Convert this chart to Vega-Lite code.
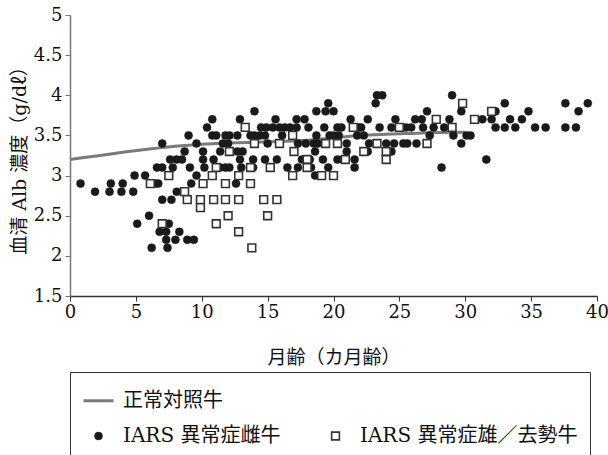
{
  "$schema": "https://vega.github.io/schema/vega-lite/v6.json",
  "width": 527,
  "height": 281,
  "autosize": {"type": "none"},
  "padding": {"left": 70, "top": 15, "right": 11, "bottom": 159},
  "background": "white",
  "config": {"view": {"stroke": null}, "font": "DejaVu Serif, Noto Sans CJK JP"},
  "datasets": {
    "norm": [
      {"m": 0, "v": 3.2}, {"m": 2, "v": 3.245}, {"m": 4, "v": 3.29}, {"m": 6, "v": 3.33},
      {"m": 8, "v": 3.365}, {"m": 10, "v": 3.39}, {"m": 12, "v": 3.405}, {"m": 14, "v": 3.415},
      {"m": 16, "v": 3.425}, {"m": 18, "v": 3.44}, {"m": 20, "v": 3.47}, {"m": 22, "v": 3.5},
      {"m": 24, "v": 3.515}, {"m": 26, "v": 3.525}, {"m": 28, "v": 3.535}, {"m": 30, "v": 3.54}
    ],
    "pts": [
      {"m": 23.3, "v": 4.0, "g": "F"}, {"m": 23.7, "v": 4.0, "g": "F"}, {"m": 29.0, "v": 4.0, "g": "F"},
      {"m": 19.6, "v": 3.9, "g": "F"}, {"m": 23.2, "v": 3.9, "g": "F"}, {"m": 33.0, "v": 3.9, "g": "F"}, {"m": 37.6, "v": 3.9, "g": "F"}, {"m": 39.3, "v": 3.9, "g": "F"},
      {"m": 14.0, "v": 3.8, "g": "F"}, {"m": 18.7, "v": 3.8, "g": "F"}, {"m": 19.4, "v": 3.8, "g": "F"}, {"m": 20.0, "v": 3.8, "g": "F"}, {"m": 27.1, "v": 3.8, "g": "F"}, {"m": 29.7, "v": 3.8, "g": "F"}, {"m": 32.3, "v": 3.8, "g": "F"}, {"m": 34.8, "v": 3.8, "g": "F"}, {"m": 38.6, "v": 3.8, "g": "F"},
      {"m": 10.8, "v": 3.7, "g": "F"}, {"m": 12.9, "v": 3.7, "g": "F"}, {"m": 15.6, "v": 3.7, "g": "F"}, {"m": 17.2, "v": 3.7, "g": "F"}, {"m": 17.8, "v": 3.7, "g": "F"}, {"m": 21.3, "v": 3.7, "g": "F"}, {"m": 22.6, "v": 3.7, "g": "F"}, {"m": 24.7, "v": 3.7, "g": "F"}, {"m": 26.2, "v": 3.7, "g": "F"}, {"m": 26.7, "v": 3.7, "g": "F"}, {"m": 28.8, "v": 3.7, "g": "F"}, {"m": 31.3, "v": 3.7, "g": "F"}, {"m": 32.0, "v": 3.7, "g": "F"}, {"m": 33.4, "v": 3.7, "g": "F"}, {"m": 34.3, "v": 3.7, "g": "F"},
      {"m": 10.4, "v": 3.6, "g": "F"}, {"m": 14.5, "v": 3.6, "g": "F"}, {"m": 14.9, "v": 3.6, "g": "F"}, {"m": 15.4, "v": 3.6, "g": "F"}, {"m": 15.9, "v": 3.6, "g": "F"}, {"m": 16.3, "v": 3.6, "g": "F"}, {"m": 16.7, "v": 3.6, "g": "F"}, {"m": 17.2, "v": 3.6, "g": "F"}, {"m": 18.1, "v": 3.6, "g": "F"}, {"m": 19.3, "v": 3.6, "g": "F"}, {"m": 20.3, "v": 3.6, "g": "F"}, {"m": 20.6, "v": 3.6, "g": "F"}, {"m": 21.9, "v": 3.6, "g": "F"}, {"m": 22.1, "v": 3.6, "g": "F"}, {"m": 23.5, "v": 3.6, "g": "F"}, {"m": 24.4, "v": 3.6, "g": "F"}, {"m": 25.5, "v": 3.6, "g": "F"}, {"m": 25.9, "v": 3.6, "g": "F"}, {"m": 26.8, "v": 3.6, "g": "F"}, {"m": 27.6, "v": 3.6, "g": "F"}, {"m": 28.4, "v": 3.6, "g": "F"}, {"m": 32.3, "v": 3.6, "g": "F"}, {"m": 33.0, "v": 3.6, "g": "F"}, {"m": 33.8, "v": 3.6, "g": "F"}, {"m": 35.3, "v": 3.6, "g": "F"}, {"m": 36.1, "v": 3.6, "g": "F"}, {"m": 37.6, "v": 3.6, "g": "F"}, {"m": 38.4, "v": 3.6, "g": "F"},
      {"m": 9.0, "v": 3.5, "g": "F"}, {"m": 10.8, "v": 3.5, "g": "F"}, {"m": 11.1, "v": 3.5, "g": "F"}, {"m": 11.8, "v": 3.5, "g": "F"}, {"m": 12.1, "v": 3.5, "g": "F"}, {"m": 12.7, "v": 3.5, "g": "F"}, {"m": 13.7, "v": 3.5, "g": "F"}, {"m": 14.0, "v": 3.5, "g": "F"}, {"m": 14.4, "v": 3.5, "g": "F"}, {"m": 14.8, "v": 3.5, "g": "F"}, {"m": 16.1, "v": 3.5, "g": "F"}, {"m": 18.7, "v": 3.5, "g": "F"}, {"m": 19.7, "v": 3.5, "g": "F"}, {"m": 20.0, "v": 3.5, "g": "F"}, {"m": 20.4, "v": 3.5, "g": "F"}, {"m": 21.8, "v": 3.5, "g": "F"}, {"m": 22.3, "v": 3.5, "g": "F"}, {"m": 27.3, "v": 3.5, "g": "F"}, {"m": 29.1, "v": 3.5, "g": "F"}, {"m": 30.1, "v": 3.5, "g": "F"}, {"m": 30.4, "v": 3.5, "g": "F"},
      {"m": 7.0, "v": 3.4, "g": "F"}, {"m": 9.6, "v": 3.4, "g": "F"}, {"m": 11.6, "v": 3.4, "g": "F"}, {"m": 12.0, "v": 3.4, "g": "F"}, {"m": 15.0, "v": 3.4, "g": "F"}, {"m": 17.3, "v": 3.4, "g": "F"}, {"m": 17.9, "v": 3.4, "g": "F"}, {"m": 18.5, "v": 3.4, "g": "F"}, {"m": 18.8, "v": 3.4, "g": "F"}, {"m": 21.0, "v": 3.4, "g": "F"}, {"m": 22.7, "v": 3.4, "g": "F"}, {"m": 24.0, "v": 3.4, "g": "F"}, {"m": 24.6, "v": 3.4, "g": "F"}, {"m": 25.3, "v": 3.4, "g": "F"}, {"m": 25.6, "v": 3.4, "g": "F"}, {"m": 26.3, "v": 3.4, "g": "F"}, {"m": 29.7, "v": 3.4, "g": "F"},
      {"m": 8.7, "v": 3.3, "g": "F"}, {"m": 10.1, "v": 3.3, "g": "F"}, {"m": 11.4, "v": 3.3, "g": "F"}, {"m": 12.7, "v": 3.3, "g": "F"}, {"m": 13.1, "v": 3.3, "g": "F"}, {"m": 18.6, "v": 3.3, "g": "F"}, {"m": 21.0, "v": 3.3, "g": "F"}, {"m": 22.6, "v": 3.3, "g": "F"}, {"m": 24.4, "v": 3.3, "g": "F"},
      {"m": 7.6, "v": 3.2, "g": "F"}, {"m": 8.1, "v": 3.2, "g": "F"}, {"m": 8.5, "v": 3.2, "g": "F"}, {"m": 10.1, "v": 3.2, "g": "F"}, {"m": 10.9, "v": 3.2, "g": "F"}, {"m": 12.9, "v": 3.2, "g": "F"}, {"m": 13.9, "v": 3.2, "g": "F"}, {"m": 14.8, "v": 3.2, "g": "F"}, {"m": 15.7, "v": 3.2, "g": "F"}, {"m": 17.6, "v": 3.2, "g": "F"}, {"m": 18.2, "v": 3.2, "g": "F"}, {"m": 19.2, "v": 3.2, "g": "F"}, {"m": 20.3, "v": 3.2, "g": "F"}, {"m": 20.7, "v": 3.2, "g": "F"}, {"m": 21.6, "v": 3.2, "g": "F"}, {"m": 31.6, "v": 3.2, "g": "F"},
      {"m": 6.6, "v": 3.1, "g": "F"}, {"m": 7.0, "v": 3.1, "g": "F"}, {"m": 7.8, "v": 3.1, "g": "F"}, {"m": 9.1, "v": 3.1, "g": "F"}, {"m": 10.2, "v": 3.1, "g": "F"}, {"m": 11.4, "v": 3.1, "g": "F"}, {"m": 11.8, "v": 3.1, "g": "F"}, {"m": 12.1, "v": 3.1, "g": "F"}, {"m": 13.0, "v": 3.1, "g": "F"}, {"m": 13.9, "v": 3.1, "g": "F"}, {"m": 16.5, "v": 3.1, "g": "F"}, {"m": 17.3, "v": 3.1, "g": "F"}, {"m": 18.3, "v": 3.1, "g": "F"}, {"m": 19.6, "v": 3.1, "g": "F"}, {"m": 21.6, "v": 3.1, "g": "F"}, {"m": 28.2, "v": 3.1, "g": "F"},
      {"m": 4.9, "v": 3.0, "g": "F"}, {"m": 5.7, "v": 3.0, "g": "F"}, {"m": 9.6, "v": 3.0, "g": "F"}, {"m": 18.6, "v": 3.0, "g": "F"},
      {"m": 0.8, "v": 2.9, "g": "F"}, {"m": 3.1, "v": 2.9, "g": "F"}, {"m": 4.0, "v": 2.9, "g": "F"}, {"m": 6.5, "v": 2.9, "g": "F"}, {"m": 6.7, "v": 2.9, "g": "F"}, {"m": 9.2, "v": 2.9, "g": "F"}, {"m": 12.6, "v": 2.9, "g": "F"},
      {"m": 1.9, "v": 2.8, "g": "F"}, {"m": 3.0, "v": 2.8, "g": "F"}, {"m": 3.9, "v": 2.8, "g": "F"}, {"m": 4.8, "v": 2.8, "g": "F"}, {"m": 8.1, "v": 2.8, "g": "F"},
      {"m": 7.0, "v": 2.7, "g": "F"}, {"m": 7.7, "v": 2.7, "g": "F"},
      {"m": 6.0, "v": 2.5, "g": "F"},
      {"m": 5.1, "v": 2.4, "g": "F"}, {"m": 7.5, "v": 2.4, "g": "F"},
      {"m": 6.8, "v": 2.3, "g": "F"}, {"m": 7.3, "v": 2.3, "g": "F"}, {"m": 8.3, "v": 2.3, "g": "F"},
      {"m": 7.3, "v": 2.2, "g": "F"}, {"m": 8.0, "v": 2.2, "g": "F"}, {"m": 8.9, "v": 2.2, "g": "F"}, {"m": 9.4, "v": 2.2, "g": "F"},
      {"m": 6.2, "v": 2.1, "g": "F"}, {"m": 7.4, "v": 2.1, "g": "F"},
      {"m": 29.8, "v": 3.9, "g": "M"},
      {"m": 32.0, "v": 3.8, "g": "M"},
      {"m": 27.8, "v": 3.7, "g": "M"}, {"m": 30.7, "v": 3.7, "g": "M"},
      {"m": 13.3, "v": 3.6, "g": "M"}, {"m": 21.5, "v": 3.6, "g": "M"}, {"m": 25.0, "v": 3.6, "g": "M"}, {"m": 29.0, "v": 3.6, "g": "M"},
      {"m": 16.9, "v": 3.5, "g": "M"},
      {"m": 14.0, "v": 3.4, "g": "M"}, {"m": 15.9, "v": 3.4, "g": "M"}, {"m": 19.4, "v": 3.4, "g": "M"}, {"m": 20.3, "v": 3.4, "g": "M"}, {"m": 23.3, "v": 3.4, "g": "M"}, {"m": 27.1, "v": 3.4, "g": "M"},
      {"m": 12.1, "v": 3.3, "g": "M"}, {"m": 17.0, "v": 3.3, "g": "M"}, {"m": 22.3, "v": 3.3, "g": "M"}, {"m": 24.0, "v": 3.3, "g": "M"},
      {"m": 18.0, "v": 3.2, "g": "M"}, {"m": 20.9, "v": 3.2, "g": "M"}, {"m": 24.0, "v": 3.2, "g": "M"},
      {"m": 11.1, "v": 3.1, "g": "M"}, {"m": 13.7, "v": 3.1, "g": "M"}, {"m": 15.2, "v": 3.1, "g": "M"}, {"m": 18.0, "v": 3.1, "g": "M"},
      {"m": 7.5, "v": 3.0, "g": "M"}, {"m": 10.8, "v": 3.0, "g": "M"}, {"m": 12.8, "v": 3.0, "g": "M"}, {"m": 16.9, "v": 3.0, "g": "M"}, {"m": 19.1, "v": 3.0, "g": "M"}, {"m": 20.0, "v": 3.0, "g": "M"},
      {"m": 6.1, "v": 2.9, "g": "M"}, {"m": 10.1, "v": 2.9, "g": "M"}, {"m": 11.8, "v": 2.9, "g": "M"}, {"m": 13.7, "v": 2.9, "g": "M"},
      {"m": 8.7, "v": 2.8, "g": "M"},
      {"m": 8.9, "v": 2.7, "g": "M"}, {"m": 9.9, "v": 2.7, "g": "M"}, {"m": 10.9, "v": 2.7, "g": "M"}, {"m": 11.8, "v": 2.7, "g": "M"}, {"m": 12.8, "v": 2.7, "g": "M"}, {"m": 14.7, "v": 2.7, "g": "M"}, {"m": 15.7, "v": 2.7, "g": "M"},
      {"m": 9.9, "v": 2.6, "g": "M"},
      {"m": 12.0, "v": 2.5, "g": "M"}, {"m": 15.0, "v": 2.5, "g": "M"},
      {"m": 7.0, "v": 2.4, "g": "M"}, {"m": 11.1, "v": 2.4, "g": "M"},
      {"m": 12.8, "v": 2.3, "g": "M"},
      {"m": 13.8, "v": 2.1, "g": "M"}
    ]
  },
  "encoding": {
    "x": {
      "field": "m", "type": "quantitative",
      "scale": {"domain": [0, 40], "nice": false},
      "axis": {
        "values": [0, 5, 10, 15, 20, 25, 30, 35, 40],
        "title": "月齢（カ月齢）", "grid": false,
        "domainColor": "#333", "tickColor": "#333", "domainWidth": 1.3, "tickSize": 5,
        "labelFont": "DejaVu Serif", "labelFontSize": 18, "labelColor": "#111", "labelPadding": 2, "labelFlush": false,
        "titleFont": "DejaVu Serif, Noto Sans CJK JP", "titleFontSize": 19, "titleFontWeight": "normal", "titleColor": "#111", "titlePadding": 27
      }
    },
    "y": {
      "field": "v", "type": "quantitative",
      "scale": {"domain": [1.5, 5], "nice": false, "zero": false},
      "axis": {
        "values": [1.5, 2, 2.5, 3, 3.5, 4, 4.5, 5], "format": "~g",
        "title": "血清 Alb 濃度（g/dℓ）", "grid": false,
        "domainColor": "#777", "tickColor": "#777", "domainWidth": 1.5, "tickSize": 5,
        "labelFont": "DejaVu Serif", "labelFontSize": 18, "labelColor": "#111", "labelPadding": 3,
        "titleFont": "DejaVu Serif, Noto Sans CJK JP", "titleFontSize": 19, "titleFontWeight": "normal", "titleColor": "#111", "titlePadding": 4
      }
    }
  },
  "layer": [
    {
      "data": {"name": "norm"},
      "mark": {"type": "line", "stroke": "#7a7a7a", "strokeWidth": 3, "interpolate": "monotone"}
    },
    {
      "data": {"name": "pts"},
      "mark": {"type": "point", "opacity": 1},
      "encoding": {
        "shape": {
          "field": "g", "type": "nominal",
          "scale": {"domain": ["N", "F", "B", "M"], "range": ["stroke", "circle", "circle", "square"]},
          "legend": {
            "title": null, "orient": "none", "legendX": 0, "legendY": 357, "columns": 2,
            "strokeColor": "#333", "padding": 12, "rowPadding": 15, "columnPadding": 38,
            "labelFont": "DejaVu Serif, Noto Sans CJK JP", "labelFontSize": 20, "labelColor": "#111",
            "labelOffset": 8, "labelLimit": 400,
            "labelExpr": "datum.label == 'N' ? '正常対照牛' : datum.label == 'F' ? 'IARS 異常症雌牛' : datum.label == 'M' ? 'IARS 異常症雄／去勢牛' : ''"
          }
        },
        "fill": {"field": "g", "type": "nominal", "scale": {"domain": ["N", "F", "B", "M"], "range": ["#7a7a7a", "#1a1a1a", "transparent", "#ffffff"]}},
        "stroke": {"field": "g", "type": "nominal", "scale": {"domain": ["N", "F", "B", "M"], "range": ["#7a7a7a", "#1a1a1a", "transparent", "#333333"]}},
        "size": {"field": "g", "type": "nominal", "scale": {"type": "ordinal", "domain": ["N", "F", "B", "M"], "range": [900, 64, 0, 60]}},
        "strokeWidth": {"field": "g", "type": "nominal", "scale": {"type": "ordinal", "domain": ["N", "F", "B", "M"], "range": [3, 0.5, 0, 1.6]}}
      }
    }
  ]
}
